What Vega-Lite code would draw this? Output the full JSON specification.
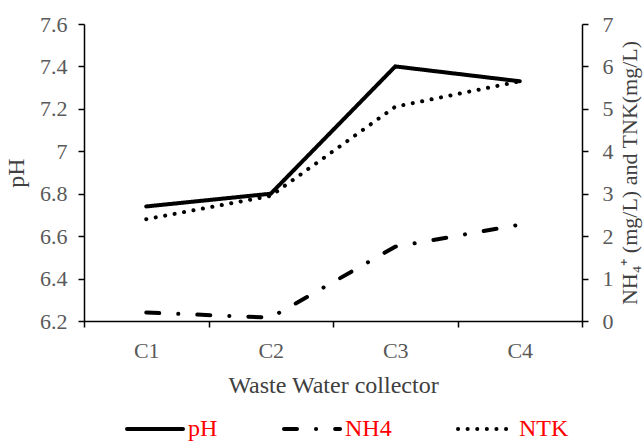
{
  "$schema": "https://vega.github.io/schema/vega-lite/v6.json",
  "autosize": "none",
  "width": 498,
  "height": 297,
  "padding": {"left": 84, "top": 24, "right": 62, "bottom": 123},
  "config": {
    "font": "Liberation Serif",
    "view": {"stroke": null},
    "axis": {
      "domainColor": "black",
      "domainWidth": 1.5,
      "tickColor": "black",
      "tickWidth": 1.5,
      "tickSize": 6,
      "grid": false,
      "labelColor": "#595959",
      "labelFontSize": 22,
      "titleColor": "#404040",
      "titleFontSize": 24,
      "titleFontWeight": "normal"
    }
  },
  "data": {
    "values": [
      {"collector": "C1", "series": "pH", "value": 6.74},
      {"collector": "C2", "series": "pH", "value": 6.80},
      {"collector": "C3", "series": "pH", "value": 7.40},
      {"collector": "C4", "series": "pH", "value": 7.33},
      {"collector": "C1", "series": "NH4", "value": 0.20},
      {"collector": "C2", "series": "NH4", "value": 0.08},
      {"collector": "C3", "series": "NH4", "value": 1.75},
      {"collector": "C4", "series": "NH4", "value": 2.27},
      {"collector": "C1", "series": "NTK", "value": 2.40},
      {"collector": "C2", "series": "NTK", "value": 2.95},
      {"collector": "C3", "series": "NTK", "value": 5.05},
      {"collector": "C4", "series": "NTK", "value": 5.65}
    ]
  },
  "encoding": {
    "x": {
      "field": "collector",
      "type": "nominal",
      "scale": {"paddingInner": 0, "paddingOuter": 0},
      "axis": {
        "title": "Waste Water collector",
        "labelAngle": 0,
        "tickBand": "extent",
        "labelPadding": 13,
        "titlePadding": 12
      }
    },
    "strokeDash": {
      "field": "series",
      "type": "nominal",
      "scale": {
        "domain": ["pH", "NH4", "NTK"],
        "range": [[1, 0], [13, 19, 0.1, 19], [0.1, 9.5]]
      },
      "legend": {
        "title": null,
        "orient": "none",
        "direction": "horizontal",
        "legendX": 41,
        "legendY": 375,
        "symbolType": "stroke",
        "symbolSize": 3136,
        "symbolStrokeWidth": 4,
        "symbolStrokeColor": "black",
        "labelColor": "#FF0000",
        "labelFontSize": 24,
        "labelOffset": 3,
        "columnPadding": 58,
        "encode": {"symbols": {"update": {"strokeCap": {"value": "round"}}}}
      }
    }
  },
  "layer": [
    {
      "transform": [{"filter": "datum.series === 'pH'"}],
      "mark": {"type": "line", "color": "black", "strokeWidth": 4, "strokeCap": "round"},
      "encoding": {
        "y": {
          "field": "value",
          "type": "quantitative",
          "scale": {"domain": [6.2, 7.6], "nice": false, "zero": false},
          "axis": {
            "title": "pH",
            "orient": "left",
            "values": [6.2, 6.4, 6.6, 6.8, 7, 7.2, 7.4, 7.6],
            "format": "~g",
            "labelPadding": 11,
            "titlePadding": 11
          }
        }
      }
    },
    {
      "transform": [{"filter": "datum.series !== 'pH'"}],
      "mark": {"type": "line", "color": "black", "strokeWidth": 4, "strokeCap": "round"},
      "encoding": {
        "y": {
          "field": "value",
          "type": "quantitative",
          "scale": {"domain": [0, 7], "nice": false},
          "axis": {
            "title": "NH₄⁺ (mg/L) and TNK(mg/L)",
            "titleFontSize": 22,
            "orient": "right",
            "values": [0, 1, 2, 3, 4, 5, 6, 7],
            "labelPadding": 14,
            "titleAngle": 270,
            "titleBaseline": "top",
            "titlePadding": 6
          }
        }
      }
    }
  ],
  "resolve": {"scale": {"y": "independent"}}
}
